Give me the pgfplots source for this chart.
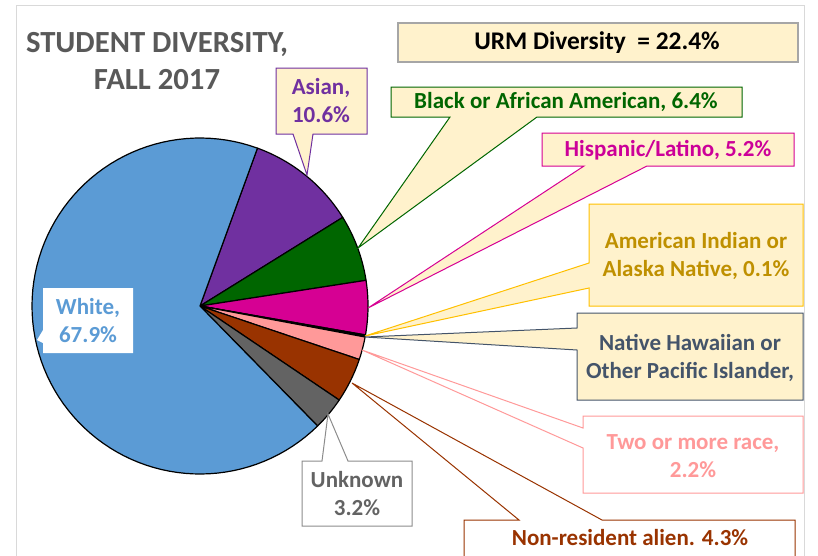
\documentclass[border=0pt]{standalone}
\usepackage{pgfplots}
\pgfplotsset{compat=1.18}
\usepackage{pgfplotstable}
\usepackage{fontspec}
\setmainfont{Carlito}
\definecolor{cWhite}{HTML}{5B9BD5}
\definecolor{cAsian}{HTML}{7030A0}
\definecolor{cBlack}{HTML}{006600}
\definecolor{cHisp}{HTML}{D60093}
\definecolor{cHispT}{HTML}{CC0099}
\definecolor{cAmInd}{HTML}{FFC000}
\definecolor{cAmIndT}{HTML}{BF9000}
\definecolor{cNHPI}{HTML}{44546A}
\definecolor{cTwo}{HTML}{FF9999}
\definecolor{cNonres}{HTML}{993300}
\definecolor{cUnk}{HTML}{636363}
\definecolor{cUnkB}{HTML}{8C8C8C}
\definecolor{cTitle}{HTML}{595959}
\definecolor{lblfill}{HTML}{FFF2CC}
\definecolor{frame}{HTML}{D9D9D9}
\definecolor{urmB}{HTML}{A6A6A6}

\pgfplotstableread{
name value color
Asian 10.6 cAsian
Black 6.4 cBlack
Hispanic 5.2 cHisp
AmInd 0.1 cAmInd
NHPI 0.1 cNHPI
Two 2.2 cTwo
Nonres 4.3 cNonres
Unknown 3.2 cUnk
White 67.9 cWhite
}\piedata

\newcommand\lblfont{\bfseries\fontsize{23}{28}\selectfont}

\begin{document}
\begin{tikzpicture}
\begin{axis}[width=818pt,height=555pt,scale only axis,
  xmin=0,xmax=818,ymin=0,ymax=555,y dir=reverse,hide axis,clip=false]
\coordinate (LL) at (axis cs:0,555);
\coordinate (UR) at (axis cs:818,0);
\draw[draw=frame, line width=1pt] (axis cs:16,5) rectangle (axis cs:804,562);
% pie slices, clockwise from 70 degrees
\xdef\acur{70}
\pgfplotstablegetrowsof{\piedata}
\pgfmathtruncatemacro\nrows{\pgfplotsretval-1}
\foreach \i in {0,...,\nrows}{
  \pgfplotstablegetelem{\i}{value}\of\piedata \let\val\pgfplotsretval
  \pgfplotstablegetelem{\i}{color}\of\piedata \let\col\pgfplotsretval
  \pgfmathsetmacro\aend{\acur-\val*3.6}
  \edef\tmp{\noexpand\addplot[fill=\col, draw=black, line width=1.2pt, line join=round,
     domain=\aend:\acur, samples=90, variable=\noexpand\t]
     ({200+168*cos(\noexpand\t)},{306-168*sin(\noexpand\t)}) -- (axis cs:200,306) -- cycle;}
  \tmp
  \xdef\acur{\aend}
}
% title
\node[text=cTitle, align=center, font=\bfseries\fontsize{30.7}{37}\selectfont] at (axis cs:157,61) {STUDENT DIVERSITY,\\FALL 2017};
% URM box
\draw[fill=lblfill, draw=urmB, line width=1.2pt] (axis cs:398,23) rectangle (axis cs:798,62);
\node[text=black, font=\bfseries\fontsize{25.4}{28}\selectfont] at (axis cs:597,43) {URM Diversity\ \ = 22.4\%};
% Asian
\draw[fill=lblfill, draw=cAsian, line width=1pt] (axis cs:276,68) -- (axis cs:367,68) -- (axis cs:367,134) -- (axis cs:313,134) -- (axis cs:307,175) -- (axis cs:293,134) -- (axis cs:276,134) -- cycle;
\node[text=cAsian, align=center, font=\lblfont] at (axis cs:321,101) {Asian,\\10.6\%};
% Black
\draw[fill=lblfill, draw=cBlack, line width=1pt] (axis cs:391,87) -- (axis cs:742,87) -- (axis cs:742,117) -- (axis cs:537,117) -- (axis cs:358,248) -- (axis cs:450,117) -- (axis cs:391,117) -- cycle;
\node[text=cBlack, font=\lblfont] at (axis cs:566,102) {Black or African American, 6.4\%};
% Hispanic
\draw[fill=lblfill, draw=cHisp, line width=1pt] (axis cs:542,133) -- (axis cs:794,133) -- (axis cs:794,166) -- (axis cs:647,166) -- (axis cs:368,308) -- (axis cs:584,166) -- (axis cs:542,166) -- cycle;
\node[text=cHispT, font=\lblfont] at (axis cs:668,150) {Hispanic/Latino, 5.2\%};
% American Indian
\draw[fill=lblfill, draw=cAmInd, line width=1pt] (axis cs:589,204) -- (axis cs:803,204) -- (axis cs:803,306) -- (axis cs:589,306) -- (axis cs:589,288) -- (axis cs:365,336) -- (axis cs:589,263) -- cycle;
\node[text=cAmIndT, align=center, font=\lblfont] at (axis cs:696,256) {American Indian or\\Alaska Native, 0.1\%};
% NHPI
\draw[fill=lblfill, draw=cNHPI, line width=1pt] (axis cs:577,313) -- (axis cs:803,313) -- (axis cs:803,400) -- (axis cs:577,400) -- (axis cs:577,350) -- (axis cs:365,337) -- (axis cs:577,328) -- cycle;
\node[text=cNHPI, align=center, font=\lblfont] at (axis cs:690,358) {Native Hawaiian or\\Other Pacific Islander,};
% Two or more
\draw[fill=white, draw=cTwo, line width=1pt] (axis cs:583,416) -- (axis cs:803,416) -- (axis cs:803,493) -- (axis cs:583,493) -- (axis cs:583,448) -- (axis cs:362,350) -- (axis cs:583,428) -- cycle;
\node[text=cTwo, align=center, font=\lblfont] at (axis cs:693,456) {Two or more race,\\2.2\%};
% Non-resident
\draw[fill=white, draw=cNonres, line width=1pt] (axis cs:464,520) -- (axis cs:519,520) -- (axis cs:352,383) -- (axis cs:602,520) -- (axis cs:795,520) -- (axis cs:795,570) -- (axis cs:464,570) -- cycle;
\node[text=cNonres, font=\lblfont] at (axis cs:630,538) {Non-resident alien. 4.3\%};
% Unknown
\draw[fill=white, draw=cUnkB, line width=1pt] (axis cs:302,461) -- (axis cs:322,461) -- (axis cs:328,414) -- (axis cs:348,461) -- (axis cs:412,461) -- (axis cs:412,526) -- (axis cs:302,526) -- cycle;
\node[text=cUnk, align=center, font=\lblfont] at (axis cs:357,494) {Unknown\\3.2\%};
% White
\fill[white] (axis cs:43,288) -- (axis cs:133,288) -- (axis cs:133,353) -- (axis cs:43,353) -- (axis cs:43,343) -- (axis cs:37,340) -- (axis cs:43,330) -- cycle;
\node[text=cWhite, align=center, font=\lblfont] at (axis cs:88,321) {White,\\67.9\%};
\end{axis}
\pgfresetboundingbox
\path (LL) rectangle (UR);
\end{tikzpicture}
\end{document}
